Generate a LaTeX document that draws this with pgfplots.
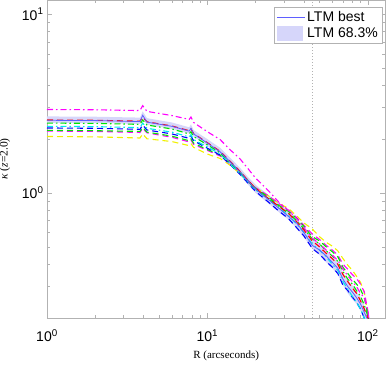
\documentclass[border=0pt]{standalone}
\usepackage{pgfplots}
\pgfplotsset{compat=1.18}
\usepackage{pgfplotstable}
\usepackage{fontspec}
\setmainfont{Liberation Sans}
\newfontfamily\serif{Liberation Serif}
\definecolor{bandcol}{RGB}{214,214,250}
\definecolor{bestcol}{RGB}{95,95,255}
\definecolor{mag}{RGB}{255,0,255}
\definecolor{grn}{RGB}{0,230,0}
\definecolor{cya}{RGB}{0,235,235}
\definecolor{yel}{RGB}{240,240,0}

\pgfplotstableread{
R     best  magdd red   grdd  cydd  bldd  grd   magd  yel
1     2.55  2.93  2.56  2.46  2.36  2.31  2.24  2.22  2.07
2     2.54  2.92  2.55  2.45  2.35  2.30  2.23  2.21  2.06
3.8   2.51  2.89  2.52  2.42  2.32  2.27  2.21  2.18  2.03
3.95  2.72  3.08  2.66  2.56  2.46  2.40  2.33  2.30  2.14
4.2   2.49  2.86  2.50  2.40  2.30  2.25  2.19  2.17  2.01
6     2.36  2.71  2.37  2.28  2.19  2.14  2.08  2.05  1.94
7.7   2.22  2.58  2.23  2.14  2.06  2.02  1.96  1.93  1.84
7.9   2.30  2.66  2.28  2.20  2.12  2.08  2.01  1.98  1.89
8.2   2.14  2.48  2.15  2.07  1.99  1.96  1.90  1.87  1.80
10    1.90  2.20  1.91  1.86  1.81  1.78  1.75  1.73  1.65
12    1.70  1.99  1.71  1.68  1.65  1.63  1.63  1.61  1.56
14    1.48  1.73  1.49  1.47  1.44  1.43  1.45  1.44  1.42
16    1.31  1.55  1.32  1.31  1.28  1.27  1.30  1.30  1.28
18    1.16  1.36  1.17  1.16  1.15  1.13  1.16  1.17  1.16
20    1.05  1.21  1.06  1.05  1.04  1.02  1.06  1.07  1.07
24    0.92  1.03  0.93  0.93  0.92  0.89  0.95  0.965 0.965
28    0.82  0.885 0.84  0.84  0.82  0.79  0.85  0.87  0.875
32    0.74  0.80  0.77  0.77  0.75  0.72  0.79  0.80  0.82
36    0.68  0.72  0.69  0.70  0.67  0.64  0.72  0.73  0.745
40    0.60  0.64  0.62  0.63  0.60  0.575 0.65  0.66  0.68
45    0.51  0.56  0.54  0.555 0.52  0.49  0.57  0.59  0.63
50    0.48  0.52  0.50  0.52  0.48  0.455 0.54  0.55  0.57
55    0.445 0.48  0.46  0.475 0.44  0.415 0.50  0.51  0.53
60    0.41  0.45  0.43  0.445 0.40  0.385 0.47  0.48  0.505
65    0.38  0.42  0.40  0.415 0.37  0.355 0.44  0.45  0.475
70    0.33  0.375 0.35  0.365 0.32  0.305 0.385 0.40  0.43
75    0.30  0.345 0.32  0.33  0.29  0.285 0.355 0.375 0.395
80    0.28  0.32  0.295 0.31  0.265 0.262 0.33  0.35  0.37
85    0.26  0.30  0.275 0.285 0.245 0.245 0.31  0.333 0.343
90    0.24  0.275 0.25  0.265 0.225 0.225 0.29  0.31  0.317
95    0.215 0.26  0.225 0.237 0.20  0.20  0.26  0.28  0.28
100   0.195 0.22  0.20  0.205 0.185 0.19  0.21  0.22  0.21
103   0.17  0.18  0.17  0.17  0.16  0.16  0.17  0.18  0.17
}\data

% 68.3% band: upper edge outward, lower edge back
\pgfplotstableread{
R     k
1     2.68
2     2.67
3.8   2.64
3.95  2.86
4.2   2.62
6     2.48
7.7   2.33
7.9   2.42
8.2   2.25
10    2.00
12    1.79
14    1.56
16    1.38
18    1.22
20    1.11
24    0.975
28    0.87
32    0.80
36    0.715
40    0.64
45    0.56
50    0.515
55    0.475
60    0.445
65    0.41
70    0.36
75    0.325
80    0.305
85    0.283
90    0.262
95    0.235
100   0.21
103   0.18
103   0.16
100   0.18
95    0.197
90    0.22
85    0.24
80    0.255
75    0.275
70    0.305
65    0.35
60    0.38
55    0.41
50    0.45
45    0.49
40    0.565
36    0.635
32    0.71
28    0.78
24    0.875
20    1.00
18    1.11
16    1.26
14    1.42
12    1.64
10    1.83
8.2   2.07
7.9   2.22
7.7   2.15
6     2.28
4.2   2.41
3.95  2.60
3.8   2.43
2     2.46
1     2.47
}\band

\begin{document}
\begin{tikzpicture}
\useasboundingbox (-47pt,-46pt) rectangle (343pt,318pt);
\begin{axis}[
  at={(0,0)}, anchor=south west,
  scale only axis, width=338pt, height=318pt,
  xmode=log, ymode=log,
  xmin=1, xmax=128, ymin=0.2, ymax=12,
  xtick={1,10,100},
  xticklabels={10\textsuperscript{0},10\textsuperscript{1},10\textsuperscript{2}},
  ytick={1,10},
  yticklabels={10\textsuperscript{0},10\textsuperscript{1}},
  minor xtick={2,3,4,5,6,7,8,9,20,30,40,50,60,70,80,90},
  minor ytick={0.2,0.3,0.4,0.5,0.6,0.7,0.8,0.9,2,3,4,5,6,7,8,9},
  tick align=inside,
  major tick length=5pt, minor tick length=3pt,
  axis line style={gray!60, line width=0.8pt},
  every tick/.style={gray!60, line width=0.6pt},
  ticklabel style={font=\fontsize{14}{16}\selectfont, text=black},
  xticklabel style={yshift=-8pt},
  xlabel={\serif R (arcseconds)},
  ylabel={\serif\textit{κ} (\textit{z}=2.0)},
  xlabel style={at={(axis description cs:0.53,-0.12)}, anchor=center, font=\fontsize{11}{13}\selectfont},
  ylabel style={at={(axis description cs:-0.125,0.5)}, anchor=center, font=\fontsize{11.5}{13}\selectfont},
  legend style={at={(rel axis cs:0.991,0.978)}, anchor=north east, draw=gray!60,
    font=\fontsize{14}{16}\selectfont, inner sep=2pt, row sep=1pt},
  legend cell align=left,
  clip=true,
]
\addlegendimage{legend image code/.code={\draw[bestcol, line width=0.8pt] (0pt,0pt) -- (28pt,0pt);}}
\addlegendentry{LTM best}
\addlegendimage{legend image code/.code={\fill[bandcol] (0pt,-7pt) rectangle (25pt,7pt);}}
\addlegendentry{LTM 68.3\%}

\addplot[fill=bandcol, draw=none, forget plot] table[x=R, y=k] {\band};

\addplot[gray!60, line width=1pt, dotted, forget plot] coordinates {(45,0.2) (45,12)};

\addplot[yel, line width=1.1pt, dash pattern=on 6pt off 4pt, forget plot] table[x=R, y=yel] {\data};
\addplot[mag, line width=1.1pt, dash pattern=on 6pt off 4pt, forget plot] table[x=R, y=magd] {\data};
\addplot[grn, line width=1.1pt, dash pattern=on 6pt off 4pt, forget plot] table[x=R, y=grd] {\data};
\addplot[blue, line width=1.1pt, dash pattern=on 6pt off 4pt, forget plot] table[x=R, y=bldd] {\data};
\addplot[cya, line width=1.1pt, dash pattern=on 6pt off 3pt on 1.5pt off 3pt, forget plot] table[x=R, y=cydd] {\data};
\addplot[grn, line width=1.1pt, dash pattern=on 6pt off 3pt on 1.5pt off 3pt, forget plot] table[x=R, y=grdd] {\data};
\addplot[red, line width=1.1pt, dash pattern=on 6pt off 4pt, forget plot] table[x=R, y=red] {\data};
\addplot[mag, line width=1.1pt, dash pattern=on 6pt off 3pt on 1.5pt off 3pt, forget plot] table[x=R, y=magdd] {\data};
\addplot[bestcol, line width=0.8pt, forget plot] table[x=R, y=best] {\data};
\end{axis}
\end{tikzpicture}
\end{document}
